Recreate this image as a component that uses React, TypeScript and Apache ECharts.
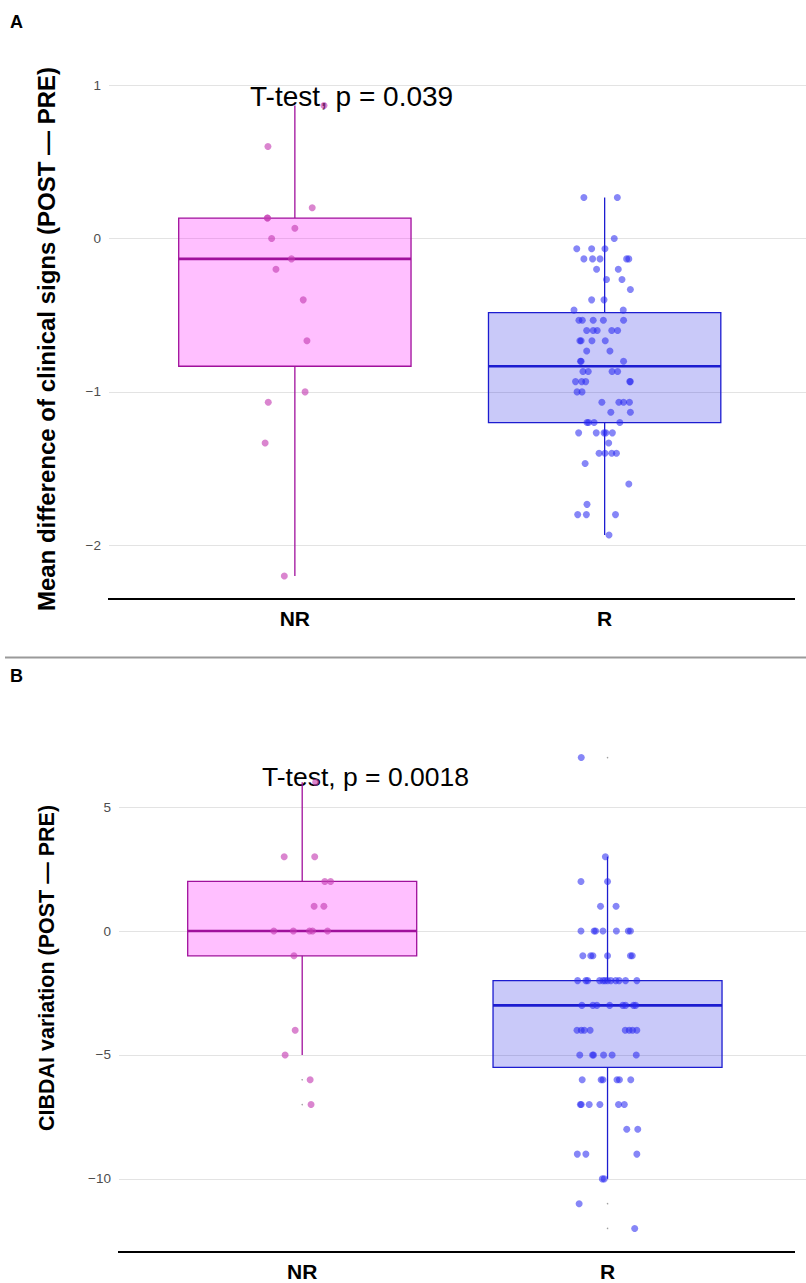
import React, { useEffect, useRef } from "react";
import * as echarts from "echarts";

// ---------- data ----------
const groups = ["NR", "R"];
const groupPositions = [1, 2];
const yTicksA = [-2, -1, 0, 1];
const yTicksB = [-10, -5, 0, 5];

// box statistics: [x, lower whisker, Q1, median, Q3, upper whisker]
const boxA = [
  [1, -2.2, -0.833, -0.133, 0.133, 0.867],
  [2, -1.933, -1.2, -0.833, -0.483, 0.267],
];
const boxB = [
  [1, -5, -1, 0, 2, 6],
  [2, -10, -5.5, -3, -2, 3],
];

// jittered points [x, y]
const pointsA_NR = [
  [1.094, 0.867], [0.913, 0.6], [1.056, 0.2], [0.911, 0.133], [0.912, 0.133],
  [1.0, 0.067], [0.925, 0], [0.989, -0.133], [0.939, -0.2], [1.027, -0.4],
  [1.039, -0.667], [1.033, -1], [0.914, -1.067], [0.904, -1.333], [0.966, -2.2],
];
const pointsA_R = [
  [1.933, 0.267], [2.041, 0.267],
  [2.031, 0],
  [1.91, -0.067], [1.958, -0.067], [2.001, -0.067],
  [1.933, -0.133], [1.961, -0.133], [1.985, -0.133], [2.071, -0.133], [2.078, -0.133],
  [1.974, -0.2], [2.044, -0.2],
  [2.006, -0.267], [2.056, -0.267],
  [2.083, -0.333],
  [1.958, -0.4], [1.998, -0.4],
  [1.901, -0.467], [2.06, -0.467],
  [1.917, -0.533], [1.928, -0.533], [1.963, -0.533], [1.996, -0.533], [2.061, -0.533],
  [1.942, -0.6], [1.963, -0.6], [1.976, -0.6], [2.023, -0.6], [2.042, -0.6],
  [1.92, -0.667], [1.924, -0.667], [1.959, -0.667], [2.002, -0.667],
  [1.942, -0.733], [2.017, -0.733],
  [1.922, -0.8], [1.924, -0.8], [2.061, -0.8],
  [1.93, -0.867], [1.947, -0.867], [2.024, -0.867], [2.042, -0.867],
  [1.906, -0.933], [1.926, -0.933], [1.939, -0.933], [2.083, -0.933], [2.081, -0.933],
  [1.911, -1.0], [1.927, -1.0],
  [1.991, -1.067], [2.046, -1.067], [2.061, -1.067], [2.08, -1.067],
  [2.02, -1.133], [2.083, -1.133],
  [1.943, -1.2], [1.948, -1.2], [1.966, -1.2], [2.049, -1.2],
  [1.916, -1.267], [1.973, -1.267], [1.998, -1.267], [2.004, -1.267], [2.025, -1.267],
  [2.013, -1.333],
  [1.982, -1.4], [2.001, -1.4], [2.023, -1.4], [2.038, -1.4],
  [1.937, -1.467],
  [2.078, -1.6],
  [1.943, -1.733],
  [1.913, -1.8], [1.941, -1.8], [2.035, -1.8],
  [2.014, -1.933],
];
const pointsB_NR = [
  [1.044, 6],
  [0.941, 3], [1.041, 3],
  [1.074, 2], [1.093, 2],
  [1.039, 1], [1.071, 1],
  [0.907, 0], [0.971, 0], [1.024, 0], [1.034, 0], [1.083, 0],
  [0.973, -1],
  [0.977, -4],
  [0.944, -5],
  [1.026, -6],
  [1.029, -7],
];
const pointsB_R = [
  [1.914, 7],
  [1.993, 3],
  [1.913, 2], [2.0, 2],
  [1.977, 1], [2.028, 1],
  [1.913, 0], [1.956, 0], [1.961, 0], [1.985, 0], [2.029, 0], [2.068, 0], [2.075, 0],
  [1.919, -1], [1.945, -1], [1.952, -1], [2.0, -1], [2.075, -1], [2.081, -1],
  [1.902, -2], [1.929, -2], [1.935, -2], [1.974, -2], [1.985, -2], [1.992, -2],
  [2.0, -2], [2.011, -2], [2.027, -2], [2.038, -2], [2.059, -2], [2.096, -2],
  [1.916, -3], [1.952, -3], [1.965, -3], [2.007, -3], [2.05, -3], [2.059, -3], [2.085, -3], [2.092, -3],
  [1.9, -4], [1.914, -4], [1.924, -4], [1.943, -4], [2.058, -4], [2.071, -4], [2.082, -4], [2.096, -4],
  [1.909, -5], [1.951, -5], [1.954, -5], [1.987, -5], [2.015, -5], [2.094, -5],
  [1.917, -6], [1.979, -6], [1.985, -6], [2.031, -6], [2.039, -6], [2.076, -6],
  [1.911, -7], [1.914, -7], [1.94, -7], [1.975, -7], [2.036, -7], [2.055, -7],
  [2.063, -8], [2.099, -8],
  [1.901, -9], [1.929, -9], [2.096, -9],
  [1.983, -10], [1.989, -10],
  [1.907, -11],
  [2.089, -12],
];
// boxplot outliers (tiny marks at group centre)
const outliersB = [
  [1, -6], [1, -7], [2, 7], [2, -11], [2, -12],
];

const pLabelA = "T-test, p = 0.039";
const pLabelB = "T-test, p = 0.0018";
const yTitleA = "Mean difference of clinical signs (POST \u2014 PRE)";
const yTitleB = "CIBDAI variation (POST \u2014 PRE)";

// ---------- styles ----------
const FONT = "Liberation Sans, Arial, sans-serif";
const boxStyles = [
  { fill: "rgba(255,0,255,0.25)", stroke: "#a0109c" },
  { fill: "rgba(30,30,230,0.24)", stroke: "#1c1cd0" },
];
const pointColors = ["rgba(195,60,178,0.78)", "rgba(40,40,240,0.7)"];

const fmtNum = (v: number) => (v < 0 ? "\u2212" + Math.abs(v) : String(v));

function boxRender(params: any, api: any) {
  const x = api.value(0);
  const lo = api.coord([x, api.value(1)]);
  const q1 = api.coord([x, api.value(2)]);
  const med = api.coord([x, api.value(3)]);
  const q3 = api.coord([x, api.value(4)]);
  const hi = api.coord([x, api.value(5)]);
  const w = api.size([0.75, 0])[0];
  const st = boxStyles[params.dataIndex];
  return {
    type: "group",
    children: [
      { type: "line", shape: { x1: lo[0], y1: lo[1], x2: q1[0], y2: q1[1] }, style: { stroke: st.stroke, lineWidth: 1.3 } },
      { type: "line", shape: { x1: q3[0], y1: q3[1], x2: hi[0], y2: hi[1] }, style: { stroke: st.stroke, lineWidth: 1.3 } },
      { type: "rect", shape: { x: q3[0] - w / 2, y: q3[1], width: w, height: q1[1] - q3[1] }, style: { fill: st.fill, stroke: st.stroke, lineWidth: 1.3 } },
      { type: "line", shape: { x1: med[0] - w / 2, y1: med[1], x2: med[0] + w / 2, y2: med[1] }, style: { stroke: st.stroke, lineWidth: 2.6 } },
    ],
  };
}

function makeXAxis(gridIndex: number) {
  return {
    type: "value",
    gridIndex,
    min: 0.4,
    max: 2.65,
    axisLine: { show: false },
    axisTick: { show: false },
    splitLine: { show: false },
    axisLabel: {
      customValues: groupPositions,
      formatter: (v: number) => groups[Math.round(v) - 1] ?? "",
      color: "#000",
      fontSize: 21,
      fontWeight: "bold",
      fontFamily: FONT,
      margin: 9,
    },
  };
}

function makeYAxis(gridIndex: number, min: number, max: number, ticks: number[]) {
  return {
    type: "value",
    gridIndex,
    min,
    max,
    axisLine: { show: false },
    axisTick: { show: false, customValues: ticks },
    axisLabel: {
      customValues: ticks,
      formatter: fmtNum,
      color: "#4d4d4d",
      fontSize: 13.5,
      fontFamily: FONT,
      margin: 8,
    },
    splitLine: { show: true, lineStyle: { color: "#e3e3e3", width: 1 } },
  };
}

export default function App() {
  const ref = useRef<HTMLDivElement>(null);
  useEffect(() => {
    if (!ref.current) return;
    const chart = echarts.init(ref.current, undefined, { renderer: "svg" });
    const option: any = {
      animation: false,
      backgroundColor: "#fff",
      grid: [
        { left: 109, right: 0, top: 82, height: 517 },
        { left: 119, right: 0, top: 734, height: 518 },
      ],
      xAxis: [makeXAxis(0), makeXAxis(1)],
      yAxis: [makeYAxis(0, -2.35, 1.02, yTicksA), makeYAxis(1, -12.95, 7.95, yTicksB)],
      series: [
        { type: "custom", xAxisIndex: 0, yAxisIndex: 0, data: boxA, encode: { x: 0, y: [1, 2, 3, 4, 5] }, renderItem: boxRender, silent: true, z: 3 },
        { type: "custom", xAxisIndex: 1, yAxisIndex: 1, data: boxB, encode: { x: 0, y: [1, 2, 3, 4, 5] }, renderItem: boxRender, silent: true, z: 3 },
        { type: "scatter", xAxisIndex: 0, yAxisIndex: 0, data: pointsA_NR, symbolSize: 7, itemStyle: { color: pointColors[0] }, z: 5 },
        { type: "scatter", xAxisIndex: 0, yAxisIndex: 0, data: pointsA_R, symbolSize: 7, itemStyle: { color: pointColors[1] }, z: 5 },
        { type: "scatter", xAxisIndex: 1, yAxisIndex: 1, data: pointsB_NR, symbolSize: 7, itemStyle: { color: pointColors[0] }, z: 5 },
        { type: "scatter", xAxisIndex: 1, yAxisIndex: 1, data: pointsB_R, symbolSize: 7, itemStyle: { color: pointColors[1] }, z: 5 },
        { type: "scatter", xAxisIndex: 1, yAxisIndex: 1, data: outliersB, symbolSize: 1.5, itemStyle: { color: "#888" }, z: 4 },
      ],
      graphic: [
        { type: "line", shape: { x1: 108, y1: 599, x2: 795, y2: 599 }, style: { stroke: "#000", lineWidth: 2 }, z: 10 },
        { type: "line", shape: { x1: 118, y1: 1252, x2: 795, y2: 1252 }, style: { stroke: "#000", lineWidth: 2 }, z: 10 },
        { type: "line", shape: { x1: 5, y1: 657.5, x2: 806, y2: 657.5 }, style: { stroke: "#9a9a9a", lineWidth: 2 }, z: 10 },
        { type: "text", left: 10, top: 13, style: { text: "A", font: "bold 18px " + FONT, fill: "#000" } },
        { type: "text", left: 10, top: 667, style: { text: "B", font: "bold 18px " + FONT, fill: "#000" } },
        {
          type: "text", x: 46, y: 339, rotation: Math.PI / 2,
          style: { text: yTitleA, font: "bold 24px " + FONT, fill: "#000", textAlign: "center", textVerticalAlign: "middle" },
        },
        {
          type: "text", x: 47, y: 968, rotation: Math.PI / 2,
          style: { text: yTitleB, font: "bold 21.5px " + FONT, fill: "#000", textAlign: "center", textVerticalAlign: "middle" },
        },
        { type: "text", left: 250, top: 82, z: -1, style: { text: pLabelA, font: "28px " + FONT, fill: "#000" } },
        { type: "text", left: 262, top: 763, z: -1, style: { text: pLabelB, font: "26.5px " + FONT, fill: "#000" } },
      ],
    };
    chart.setOption(option);
    return () => chart.dispose();
  }, []);
  return (
    <div
      ref={ref}
      style={{ position: "absolute", left: 0, top: 0, width: 806, height: 1283 }}
    />
  );
}
